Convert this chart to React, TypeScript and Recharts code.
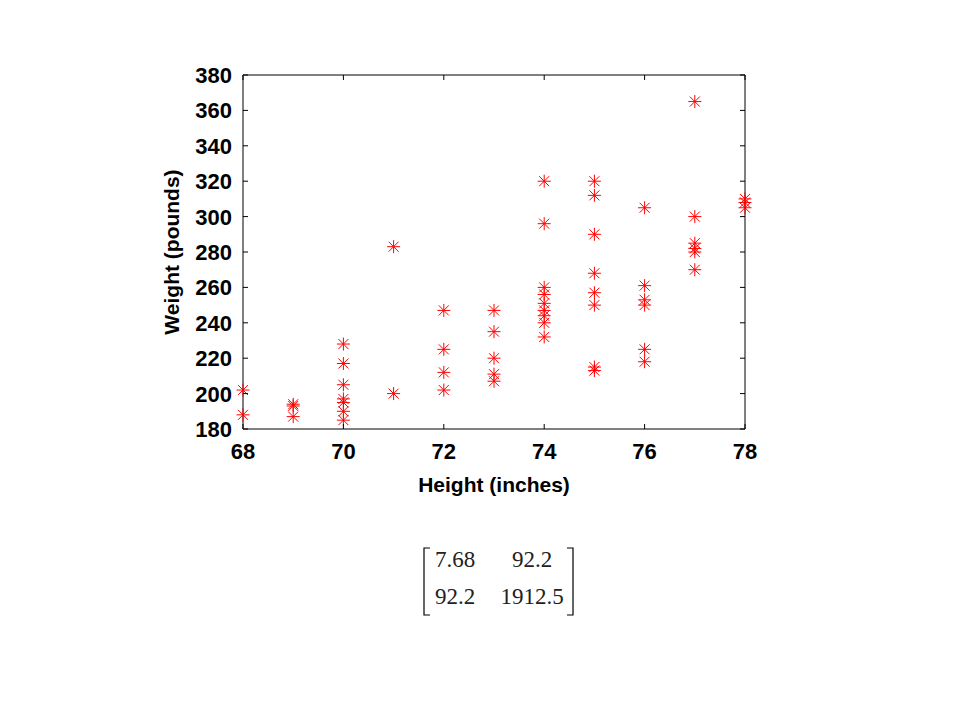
import { ScatterChart, Scatter, XAxis, YAxis, Label } from 'recharts';

// height (inches) / weight (pounds) pairs
const heights = [
  68, 68,
  69, 69, 69,
  70, 70, 70, 70, 70, 70, 70,
  71, 71,
  72, 72, 72, 72,
  73, 73, 73, 73, 73,
  74, 74, 74, 74, 74, 74, 74, 74, 74,
  75, 75, 75, 75, 75, 75, 75, 75,
  76, 76, 76, 76, 76, 76,
  77, 77, 77, 77, 77, 77,
  78, 78, 78,
];
const weights = [
  202, 188,
  194, 193, 187,
  228, 217, 205, 197, 195, 190, 185,
  283, 200,
  247, 225, 212, 202,
  247, 235, 220, 211, 207,
  320, 296, 260, 256, 251, 247, 244, 240, 232,
  320, 312, 290, 268, 257, 250, 215, 213,
  305, 261, 253, 250, 225, 218,
  365, 300, 285, 282, 280, 270,
  310, 308, 305,
];

const xTicks = [68, 70, 72, 74, 76, 78];
const yTicks = [180, 200, 220, 240, 260, 280, 300, 320, 340, 360, 380];

// covariance matrix shown under the plot
const covRow1 = ['7.68', '92.2'];
const covRow2 = ['92.2', '1912.5'];

const points = heights.map((h, i) => ({ height: h, weight: weights[i] }));

const FONT = '"Liberation Sans", Arial, sans-serif';
const RED = '#ff0000';

const Star = (props: any) => {
  const { cx, cy } = props;
  if (cx == null || cy == null) return null;
  const r = 6.5;
  const d = 5;
  return (
    <g stroke={RED} strokeWidth={1}>
      <line x1={cx} y1={cy - r} x2={cx} y2={cy + r} />
      <line x1={cx - r} y1={cy} x2={cx + r} y2={cy} />
      <line x1={cx - d} y1={cy - d} x2={cx + d} y2={cy + d} />
      <line x1={cx - d} y1={cy + d} x2={cx + d} y2={cy - d} />
    </g>
  );
};

// the frame's top and right edges need a series on their axes; it draws nothing
const NoMark = () => null;

const BottomTick = ({ x, y, payload }: any) => (
  <g>
    <line x1={x} x2={x} y1={y - 14} y2={y - 19} stroke="#000" />
    <text x={x} y={y} dy="0.72em" textAnchor="middle" fontFamily={FONT} fontWeight="bold" fontSize={22} fill="#000">
      {payload.value}
    </text>
  </g>
);

const LeftTick = ({ x, y, payload }: any) => (
  <g>
    <line x1={x + 11} x2={x + 16} y1={y} y2={y} stroke="#000" />
    <text x={x} y={y} dy="0.36em" textAnchor="end" fontFamily={FONT} fontWeight="bold" fontSize={22} fill="#000">
      {payload.value}
    </text>
  </g>
);

const TopTick = ({ x, y }: any) => <line x1={x} x2={x} y1={y} y2={y + 5} stroke="#000" />;
const RightTick = ({ x, y }: any) => <line x1={x} x2={x - 5} y1={y} y2={y} stroke="#000" />;

const YTitle = (props: any) => {
  const vb = props.viewBox || {};
  const cx = 179;
  const cy = vb.y + vb.height / 2;
  return (
    <text
      x={cx}
      y={cy}
      transform={`rotate(-90, ${cx}, ${cy})`}
      textAnchor="middle"
      fontFamily={FONT}
      fontWeight="bold"
      fontSize={21}
      fill="#000"
    >
      Weight (pounds)
    </text>
  );
};

const Matrix = () => (
  <svg width={960} height={720} style={{ position: 'absolute', left: 0, top: 0, pointerEvents: 'none' }}>
    <g stroke="#000" strokeWidth={1.2} fill="none">
      <polyline points="430,548 424,548 424,615 430,615" />
      <polyline points="567,548 573,548 573,615 567,615" />
    </g>
    <g fontFamily='"Liberation Serif", "Times New Roman", serif' fontSize={23} fill="#222" textAnchor="middle">
      <text x={455} y={567}>{covRow1[0]}</text>
      <text x={532} y={567}>{covRow1[1]}</text>
      <text x={455} y={604}>{covRow2[0]}</text>
      <text x={532} y={604}>{covRow2[1]}</text>
    </g>
  </svg>
);

export default function App() {
  return (
    <div style={{ position: 'absolute', left: 0, top: 0, width: 960, height: 720, background: '#fff' }}>
      <ScatterChart width={960} height={720} margin={{ top: 74, right: 214, bottom: 221, left: 150 }}>
        <XAxis
          xAxisId="bottom"
          dataKey="height"
          type="number"
          domain={[68, 78]}
          ticks={xTicks}
          height={70}
          tickSize={0}
          tickMargin={14}
          tickLine={false}
          axisLine={{ stroke: '#000' }}
          tick={<BottomTick />}
          interval={0}
        >
          <Label
            value="Height (inches)"
            position="insideBottom"
            offset={7}
            style={{ fontFamily: FONT, fontWeight: 'bold', fontSize: 21, fill: '#000' }}
          />
        </XAxis>
        <XAxis
          xAxisId="top"
          orientation="top"
          dataKey="height"
          type="number"
          domain={[68, 78]}
          ticks={xTicks}
          height={1}
          tickSize={0}
          tickMargin={0}
          tickLine={false}
          axisLine={{ stroke: '#000' }}
          tick={<TopTick />}
          interval={0}
        />
        <YAxis
          yAxisId="left"
          dataKey="weight"
          type="number"
          domain={[180, 380]}
          ticks={yTicks}
          width={93}
          tickSize={0}
          tickMargin={11}
          tickLine={false}
          axisLine={{ stroke: '#000' }}
          tick={<LeftTick />}
          interval={0}
        >
          <Label content={<YTitle />} />
        </YAxis>
        <YAxis
          yAxisId="right"
          orientation="right"
          dataKey="weight"
          type="number"
          domain={[180, 380]}
          ticks={yTicks}
          width={1}
          tickSize={0}
          tickMargin={0}
          tickLine={false}
          axisLine={{ stroke: '#000' }}
          tick={<RightTick />}
          interval={0}
        />
        <Scatter
          data={points}
          xAxisId="top"
          yAxisId="right"
          shape={<NoMark />}
          isAnimationActive={false}
        />
        <Scatter
          data={points}
          xAxisId="bottom"
          yAxisId="left"
          fill={RED}
          shape={<Star />}
          isAnimationActive={false}
        />
      </ScatterChart>
      <Matrix />
    </div>
  );
}
